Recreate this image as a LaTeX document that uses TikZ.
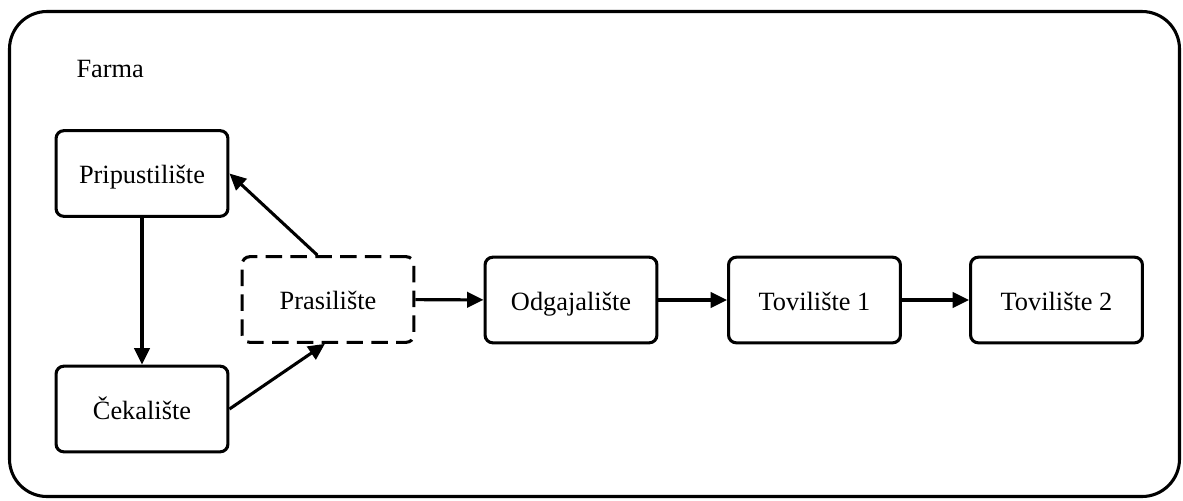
\documentclass[tikz,border=0pt]{standalone}
\usepackage{fontspec}
\setmainfont{Liberation Serif}
\usetikzlibrary{arrows.meta}

\begin{document}
\begin{tikzpicture}[x=0.16cm, y=-0.16cm,
    line width=1.4pt,
    >={Triangle[length=7.5pt,width=7pt]},
    every node/.style={font=\fontsize{12}{14}\selectfont},
    box/.style={
        draw,
        rounded corners=3.5pt,
        minimum width=2.75cm,
        minimum height=1.37cm,
        text height=9.5pt,
        text depth=0.4pt,
        inner sep=0pt},
    dashbox/.style={
        box,
        dash pattern=on 7.5pt off 3.8pt}]

    \useasboundingbox (0,0) rectangle (118.3,50);
    \draw[rounded corners=0.6cm] (0.95,1.15) rectangle (117.95,49.65);

    \node[anchor=base west, inner sep=0pt] (farma) at (7.5,7.7) {Farma};

    \node[box] (prip) at (14.2,17.35) {Pripustilište};
    \node[box] (cek) at (14.2,40.9) {Čekalište};
    \node[dashbox] (pras) at (32.8,29.95) {Prasilište};
    \node[box] (odg) at (57.1,30) {Odgajalište};
    \node[box] (tov1) at (81.45,30) {Tovilište 1};
    \node[box] (tov2) at (105.65,30) {Tovilište 2};

    \draw[->] (prip) -- (cek);
    \draw[->] (cek.east) -- ([xshift=-0.05cm]pras.south);
    \draw[->] ([xshift=-0.17cm]pras.north) -- (prip.east);
    \draw[->] (pras) -- (odg);
    \draw[->] (odg) -- (tov1);
    \draw[->] (tov1) -- (tov2);
\end{tikzpicture}
\end{document}
